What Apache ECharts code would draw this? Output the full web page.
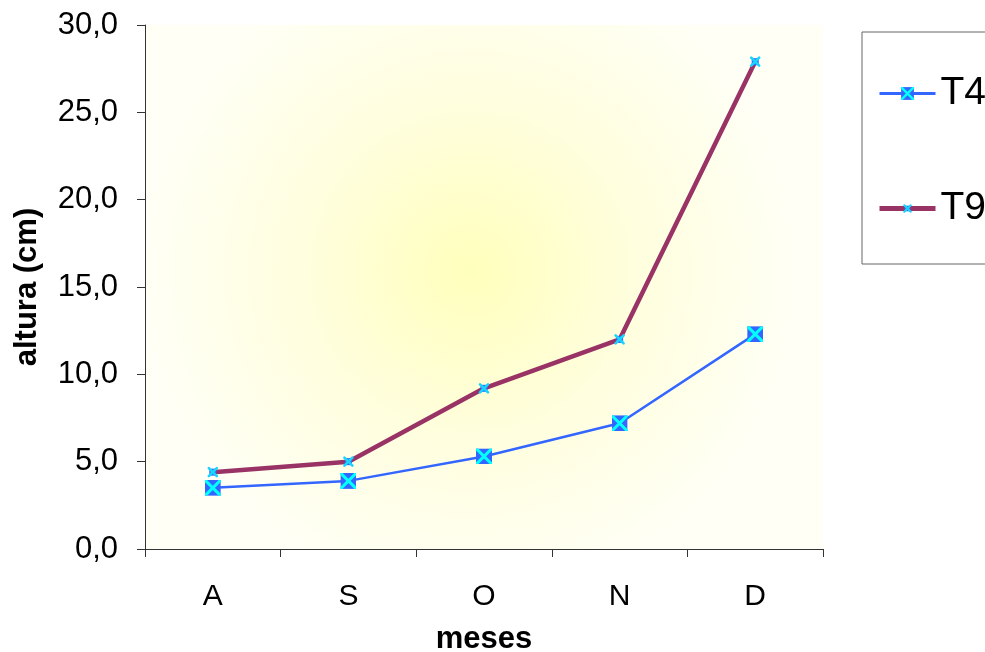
<!DOCTYPE html>
<html>
<head>
<meta charset="utf-8">
<script src="https://cdn.jsdelivr.net/npm/echarts@6/dist/echarts.min.js"></script>
<style>
  html, body { margin: 0; padding: 0; background: #ffffff; overflow: hidden; }
  #chart { width: 985px; height: 652px; }
</style>
</head>
<body>
<div id="chart"></div>
<script>
// Monthly plant height (cm) for two treatments
const months = ['A', 'S', 'O', 'N', 'D'];
const t4Values = [3.5, 3.9, 5.3, 7.2, 12.3];
const t9Values = [4.4, 5.0, 9.2, 12.0, 27.9];
const yTicks = { min: 0, max: 30, interval: 5 };

// Marker: blue square crossed by a cyan X, drawn in a box of `box` px
function markerSvg(box, size, fill, cross, crossWidth) {
  const o = (box - size) / 2;
  const a = o + 1, b = o + size - 1;
  const svg = '<svg xmlns="http://www.w3.org/2000/svg" width="' + box + '" height="' + box + '" viewBox="0 0 ' + box + ' ' + box + '">' +
    '<rect x="' + (o + size * 0.15) + '" y="' + (o + size * 0.15) + '" width="' + (size * 0.7) + '" height="' + (size * 0.7) + '" fill="' + fill + '"/>' +
    '<path d="M' + a + ' ' + a + ' L' + b + ' ' + b + ' M' + b + ' ' + a + ' L' + a + ' ' + b + '" stroke="' + cross + '" stroke-width="' + crossWidth + '" stroke-linecap="round"/>' +
    '</svg>';
  return 'image://data:image/svg+xml;utf8,' + encodeURIComponent(svg);
}

function squareMarkerSvg(size, fill, cross, crossWidth) {
  const s = size;
  const svg = '<svg xmlns="http://www.w3.org/2000/svg" width="' + s + '" height="' + s + '" viewBox="0 0 ' + s + ' ' + s + '">' +
    '<rect x="0" y="0" width="' + s + '" height="' + s + '" fill="' + fill + '"/>' +
    '<path d="M1 1 L' + (s - 1) + ' ' + (s - 1) + ' M' + (s - 1) + ' 1 L1 ' + (s - 1) + '" stroke="' + cross + '" stroke-width="' + crossWidth + '" stroke-linecap="round"/>' +
    '</svg>';
  return 'image://data:image/svg+xml;utf8,' + encodeURIComponent(svg);
}

const t4Symbol = squareMarkerSvg(16, '#3366ff', '#00ffff', 3);
const t9Symbol = markerSvg(16, 10, '#3366ff', '#19d4ff', 2.6);

const fmt = v => v.toFixed(1).replace('.', ',');

const chart = echarts.init(document.getElementById('chart'), null, { renderer: 'canvas' });
chart.setOption({
  animation: false,
  backgroundColor: '#ffffff',
  textStyle: { fontFamily: 'Liberation Sans, Arial, sans-serif' },
  grid: {
    left: 145, right: 162, top: 25, bottom: 103,
    outerBoundsMode: 'none',
    containLabel: false,
    show: true,
    borderWidth: 0,
    backgroundColor: {
      type: 'radial', x: 0.48, y: 0.47, r: 0.62,
      colorStops: [
        { offset: 0, color: '#ffffbc' },
        { offset: 0.5, color: '#fffedd' },
        { offset: 1, color: '#fffff5' }
      ]
    }
  },
  legend: {
    orient: 'vertical',
    left: 862, top: 32,
    padding: [42, 30, 36, 15],
    itemGap: 76,
    itemWidth: 56,
    itemHeight: 16,
    borderColor: '#666666',
    borderWidth: 1,
    backgroundColor: '#ffffff',
    textStyle: { fontSize: 39, color: '#000000', fontFamily: 'Liberation Sans, Arial, sans-serif' },
    data: [
      { name: 'T4', lineStyle: { width: 3 } },
      { name: 'T9', lineStyle: { width: 5 } }
    ]
  },
  xAxis: {
    type: 'category',
    data: months,
    name: 'meses',
    nameLocation: 'middle',
    nameGap: 75,
    nameTextStyle: { fontSize: 31, fontWeight: 'bold', color: '#000000' },
    axisLine: { lineStyle: { color: '#333333', width: 1 } },
    axisTick: { show: true, length: 8, inside: false, lineStyle: { color: '#333333' } },
    axisLabel: { fontSize: 30, color: '#000000', margin: 33 },
    splitLine: { show: false }
  },
  yAxis: {
    type: 'value',
    min: yTicks.min, max: yTicks.max, interval: yTicks.interval,
    name: 'altura (cm)',
    nameLocation: 'middle',
    nameGap: 102,
    nameTextStyle: { fontSize: 31, fontWeight: 'bold', color: '#000000' },
    axisLine: { show: true, lineStyle: { color: '#333333', width: 1 } },
    axisTick: { show: true, length: 8, inside: false, lineStyle: { color: '#333333' } },
    axisLabel: { fontSize: 31, color: '#000000', margin: 27, formatter: fmt },
    splitLine: { show: false }
  },
  series: [
    {
      name: 'T4',
      type: 'line',
      data: t4Values,
      symbol: t4Symbol,
      symbolSize: 16,
      lineStyle: { color: '#3366ff', width: 2.5 },
      itemStyle: { color: '#3366ff' },
      z: 3
    },
    {
      name: 'T9',
      type: 'line',
      data: t9Values,
      symbol: t9Symbol,
      symbolSize: 16,
      lineStyle: { color: '#993366', width: 4.5 },
      itemStyle: { color: '#993366' },
      z: 2
    }
  ]
});
</script>
</body>
</html>
